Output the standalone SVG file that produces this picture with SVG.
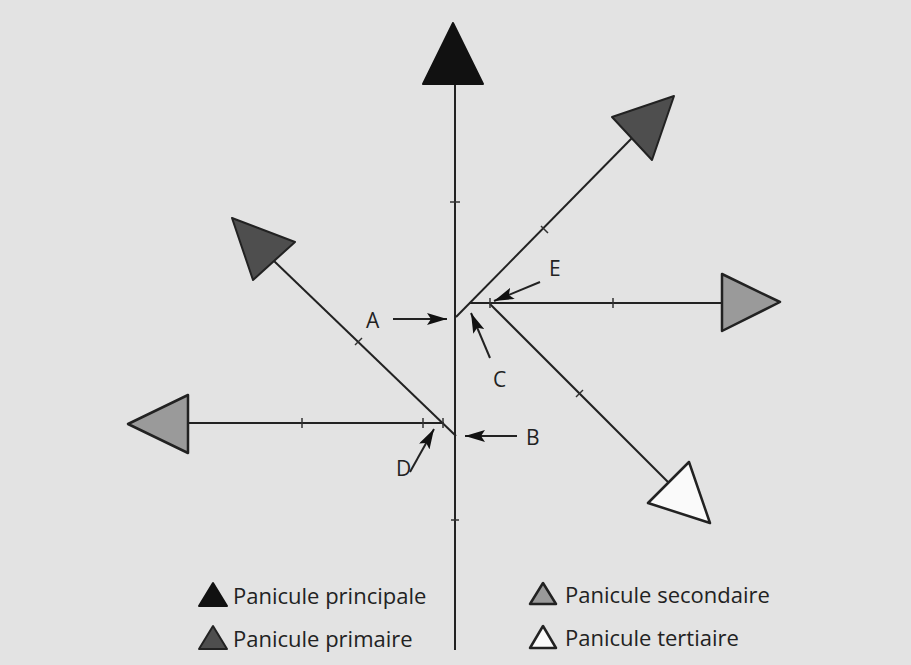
<svg xmlns="http://www.w3.org/2000/svg" width="911" height="665" viewBox="0 0 911 665">
<defs>
<style>
.ln{stroke:#222;stroke-width:2;fill:none}
.tk{stroke:#333;stroke-width:1.5}
.lbl{font-family:"Open Sans","Liberation Sans",sans-serif;font-size:21px;fill:#222}
.lg{font-family:"Open Sans","Liberation Sans",sans-serif;font-size:22px;fill:#222}
.pr{fill:#111;stroke:#111;stroke-width:2;stroke-linejoin:round}
.p1{fill:#4e4e4e;stroke:#222;stroke-width:2;stroke-linejoin:round}
.p2{fill:#9a9a9a;stroke:#222;stroke-width:2.5;stroke-linejoin:round}
.p3{fill:#fafafa;stroke:#222;stroke-width:2.5;stroke-linejoin:round}
.ar{stroke:#222;stroke-width:2;fill:none}
</style>
<marker id="ah" viewBox="0 0 10 6" refX="10" refY="3" markerWidth="10" markerHeight="6" orient="auto" markerUnits="strokeWidth">
<path d="M0,0 L10,3 L0,6 L2,3 Z" fill="#111"/>
</marker>
</defs>
<rect x="0" y="0" width="911" height="665" fill="#e3e3e3"/>
<g id="connectors">
<line class="ln" x1="455" y1="84" x2="455" y2="650"/>
<line class="ln" x1="456" y1="317" x2="632" y2="138"/>
<line class="ln" x1="469" y1="303" x2="722" y2="303"/>
<line class="ln" x1="490" y1="304" x2="668" y2="482"/>
<line class="ln" x1="456" y1="436" x2="274" y2="261"/>
<line class="ln" x1="444" y1="423" x2="188" y2="423"/>
<line class="tk" x1="450" y1="202" x2="460" y2="202"/>
<line class="tk" x1="451" y1="520" x2="459" y2="520"/>
<line class="tk" x1="541" y1="226" x2="548" y2="233"/>
<line class="tk" x1="355" y1="345" x2="362" y2="338"/>
<line class="tk" x1="302" y1="418" x2="302" y2="428"/>
<line class="tk" x1="423" y1="418" x2="423" y2="428"/>
<line class="tk" x1="443" y1="418" x2="443" y2="428"/>
<line class="tk" x1="490" y1="298" x2="490" y2="308"/>
<line class="tk" x1="613" y1="298" x2="613" y2="308"/>
<line class="tk" x1="576" y1="397" x2="583" y2="390"/>
<line class="ar" x1="393" y1="319" x2="447" y2="319" marker-end="url(#ah)"/>
<line class="ar" x1="540" y1="282" x2="494" y2="301" marker-end="url(#ah)"/>
<line class="ar" x1="490" y1="358" x2="471" y2="313" marker-end="url(#ah)"/>
<line class="ar" x1="517" y1="436" x2="465" y2="436" marker-end="url(#ah)"/>
<line class="ar" x1="410" y1="472" x2="434" y2="429" marker-end="url(#ah)"/>
</g>
<g id="node-principale"><polygon class="pr" points="453,23 423,84 483,84"/></g>
<g id="node-primaire-droite"><polygon class="p1" points="612,117 674,96 652,160"/></g>
<g id="node-primaire-gauche"><polygon class="p1" points="232,218 295,242 253,280"/></g>
<g id="node-secondaire-droite"><polygon class="p2" points="722,274 780,302 722,331"/></g>
<g id="node-secondaire-gauche"><polygon class="p2" points="188,395 128,424 188,453"/></g>
<g id="node-tertiaire"><polygon class="p3" points="689,462 648,503 710,523"/></g>
<g id="labels">
<text class="lbl" x="366" y="328">A</text>
<text class="lbl" x="549" y="276">E</text>
<text class="lbl" x="493" y="387">C</text>
<text class="lbl" x="526" y="445">B</text>
<text class="lbl" x="396" y="476">D</text>
</g>
<g id="legend">
<polygon class="pr" points="213,583 199,606 227,606"/>
<text class="lg" x="233" y="604">Panicule principale</text>
<polygon class="p1" points="213,626 199,649 227,649"/>
<text class="lg" x="233" y="647">Panicule primaire</text>
<polygon class="p2" points="543,583 530,604 556,604"/>
<text class="lg" x="565" y="603">Panicule secondaire</text>
<polygon class="p3" points="543,626 530,648 556,648"/>
<text class="lg" x="565" y="646">Panicule tertiaire</text>
</g>
</svg>
